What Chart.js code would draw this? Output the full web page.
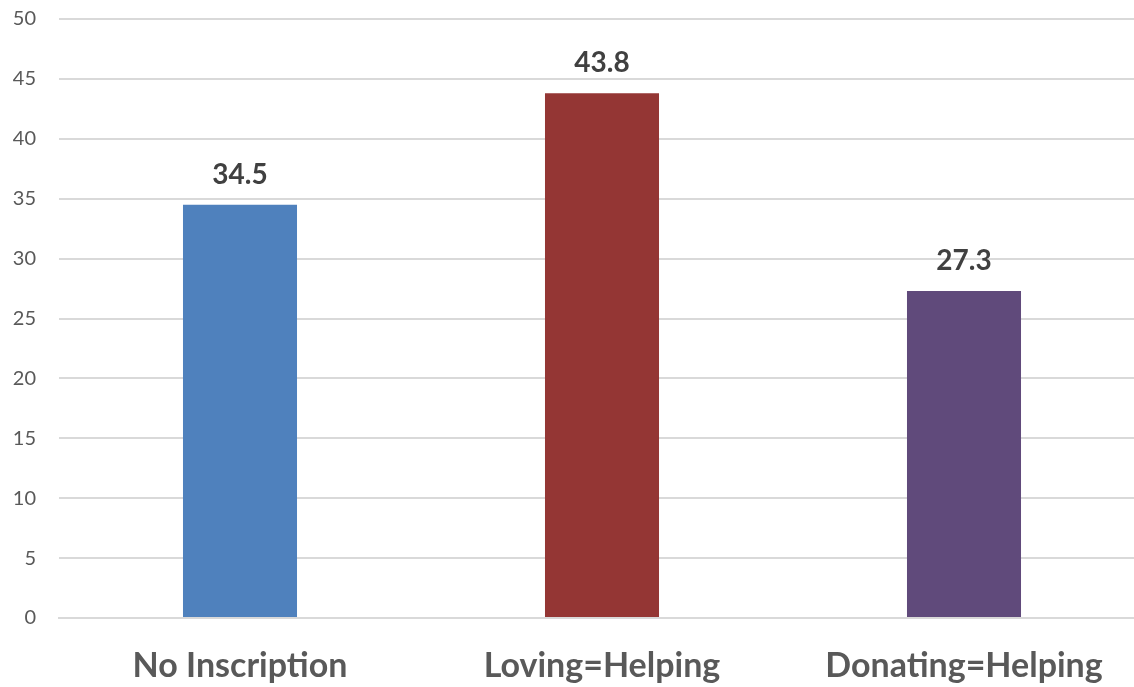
<!DOCTYPE html>
<html>
<head>
<meta charset="utf-8">
<script src="https://cdn.jsdelivr.net/npm/chart.js@4/dist/chart.umd.min.js"></script>
<style>
  html, body { margin: 0; padding: 0; background: #fff; overflow: hidden; }
  #wrap { width: 1146px; height: 687px; position: relative; }
</style>
</head>
<body>
<div id="wrap"><canvas id="c"></canvas></div>
<script>
const categories = ["No Inscription", "Loving=Helping", "Donating=Helping"];
const values = [34.5, 43.8, 27.3];
const barColors = ["#4F81BD", "#943634", "#604A7B"];
const yTicks = [0, 5, 10, 15, 20, 25, 30, 35, 40, 45, 50];

const valueLabels = {
  id: 'valueLabels',
  afterDatasetsDraw(chart) {
    const ctx = chart.ctx;
    const meta = chart.getDatasetMeta(0);
    ctx.save();
    ctx.font = 'bold 28px Lato, "Open Sans", sans-serif';
    ctx.fillStyle = '#404040';
    ctx.textAlign = 'center';
    ctx.textBaseline = 'alphabetic';
    meta.data.forEach((bar, i) => {
      ctx.fillText(values[i].toFixed(1), bar.x, bar.y - 21);
    });
    ctx.restore();
  }
};

new Chart(document.getElementById('c'), {
  type: 'bar',
  data: {
    labels: categories,
    datasets: [{
      data: values,
      backgroundColor: barColors,
      borderWidth: 0,
      categoryPercentage: 0.315,
      barPercentage: 1
    }]
  },
  options: {
    responsive: true,
    maintainAspectRatio: false,
    animation: false,
    layout: { padding: { top: 19, right: 1, left: 0, bottom: 0 } },
    plugins: { legend: { display: false }, tooltip: { enabled: false } },
    scales: {
      x: {
        grid: { display: false, drawTicks: false },
        border: { display: true, color: '#d9d9d9', width: 2 },
        ticks: {
          color: '#595959',
          font: { family: 'Lato, "Open Sans", sans-serif', size: 34, weight: 'bold' },
          padding: 28,
          maxRotation: 0
        },
        afterFit(scale) { scale.height = 69; }
      },
      y: {
        min: 0, max: 50,
        afterBuildTicks(scale) { scale.ticks = yTicks.map(v => ({ value: v })); },
        grid: { color: '#d9d9d9', lineWidth: 2, drawTicks: false },
        border: { display: false },
        ticks: {
          color: '#595959',
          font: { family: 'Lato, "Open Sans", sans-serif', size: 20 },
          padding: 23
        },
        afterFit(scale) { scale.width = 59; scale.paddingTop = 0; scale.paddingBottom = 0; }
      }
    }
  },
  plugins: [valueLabels]
});
</script>
</body>
</html>
